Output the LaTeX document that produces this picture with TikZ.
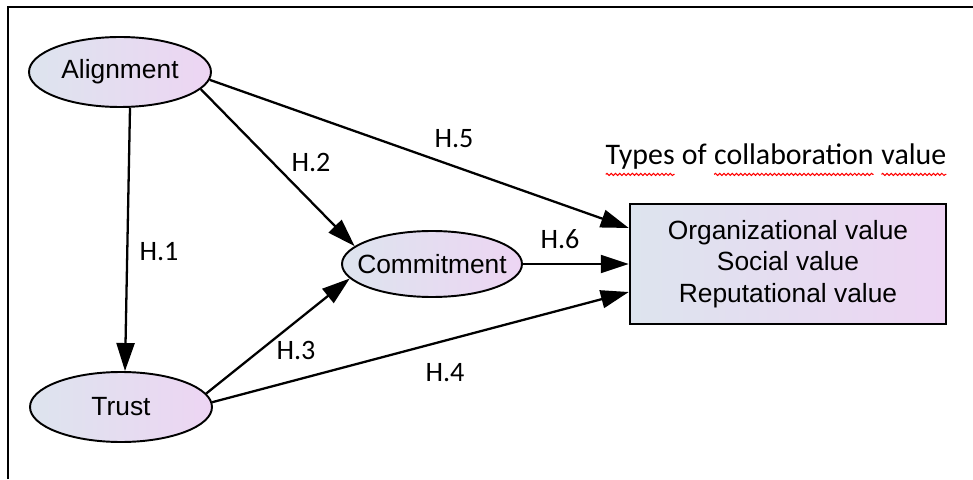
\documentclass[tikz,border=0pt]{standalone}
\usepackage{fontspec}
\setmainfont{Liberation Sans}
\newfontfamily\calib{Carlito}
\usepackage{tikz,xcolor}
\usetikzlibrary{shapes.geometric}
\usetikzlibrary{arrows.meta}
\usetikzlibrary{decorations.pathmorphing}
\definecolor{shadeL}{RGB}{221,228,238}
\definecolor{shadeR}{RGB}{237,213,243}
\newcommand{\spellmark}[1]{\tikz[baseline=(w.base)]{\node[inner sep=0pt,outer sep=0pt](w){#1};\draw[red,line width=0.6pt,decorate,decoration={snake,amplitude=0.6pt,segment length=2.4pt,pre length=0pt,post length=0pt}]([yshift=-5.5pt]w.base west)--([yshift=-5.5pt]w.base east);}}

\begin{document}
\begin{tikzpicture}[>={Triangle[length=0.56cm,width=0.36cm]}]

    \tikzstyle{latent}=[draw,ellipse,line width=1.1pt,minimum width=3.64cm,minimum height=1.40cm,inner sep=0pt,left color=shadeL,right color=shadeR,font=\fontsize{15}{18}\selectfont]
    \tikzstyle{outcome}=[draw,rectangle,line width=1.4pt,minimum width=6.32cm,minimum height=2.40cm,left color=shadeL,right color=shadeR,align=center,font=\fontsize{15}{18}\selectfont]
    \tikzstyle{hyp}=[font=\calib\fontsize{16}{19}\selectfont,inner sep=0pt]
    \tikzstyle{link}=[->,line width=1.3pt]

    \useasboundingbox (0,0) rectangle (19.46,9.58);
    % frame
    \draw[line width=1.6pt] (0.16,0) -- (0.16,9.44) -- (19.46,9.44);

    \node[latent](align) at (2.40,8.14){Alignment};
    \node[latent](trust) at (2.42,1.44){Trust};
    \node[latent,inner xsep=-0.3cm,minimum width=3.60cm,minimum height=1.32cm](commit) at (8.64,4.30){Commitment};
    \node[outcome](value) at (15.76,4.30){Organizational value\\Social value\\Reputational value};
    \node[font=\calib\fontsize{17}{20}\selectfont](types) at (15.52,6.38){\spellmark{Types} of \spellmark{collaboration} \spellmark{value}};

    \draw[link] ([xshift=0.2cm]align.south) -- ([xshift=0.08cm]trust.north);
    \draw[link] (align.-12) -- (commit.167);
    \draw[link] (align.-5) -- ([yshift=0.72cm]value.west);
    \draw[link] (commit.east) -- (commit.east -| value.west);
    \draw[link] (trust.9) -- (commit.190);
    \draw[link] (trust.3) -- ([yshift=-0.56cm]value.west);

    % hypotheses
    \node[hyp](h1) at (3.18,4.54){H.1};
    \node[hyp](h2) at (6.22,6.34){H.2};
    \node[hyp](h3) at (5.92,2.58){H.3};
    \node[hyp](h4) at (8.90,2.12){H.4};
    \node[hyp](h5) at (9.08,6.80){H.5};
    \node[hyp](h6) at (11.20,4.80){H.6};

\end{tikzpicture}
\end{document}
